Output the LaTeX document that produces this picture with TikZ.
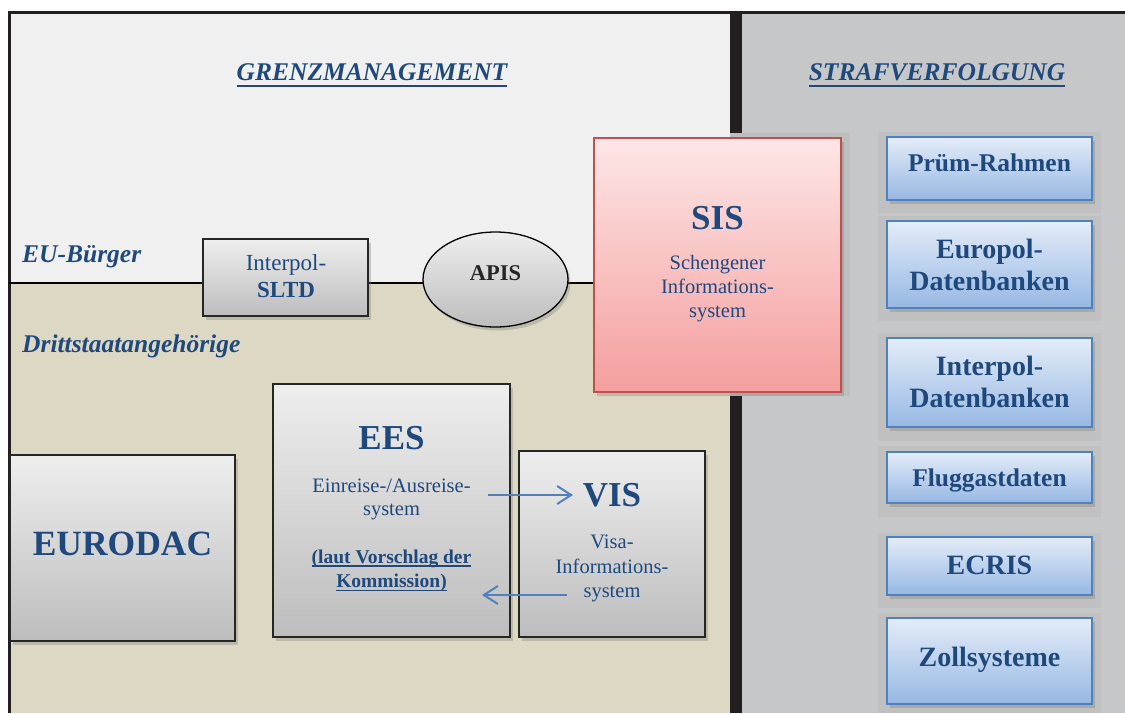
\documentclass[tikz,border=0pt]{standalone}
\usepackage{fontspec}
\setmainfont{Liberation Serif}
\usetikzlibrary{shapes.geometric,shadows,arrows.meta}
\definecolor{txtblue}{RGB}{31,73,125}
\definecolor{lightbg}{RGB}{240,240,240}
\definecolor{tanbg}{RGB}{221,216,196}
\definecolor{graybg}{RGB}{198,199,201}
\definecolor{panelgray}{RGB}{190,190,191}
\definecolor{colpanel}{RGB}{192,192,193}
\definecolor{framec}{RGB}{35,31,32}
\definecolor{boxline}{RGB}{38,38,38}
\definecolor{sisborder}{RGB}{192,80,77}
\definecolor{sistop}{RGB}{253,230,230}
\definecolor{sisbot}{RGB}{245,158,158}
\definecolor{bluebord}{RGB}{79,129,189}
\definecolor{btop}{RGB}{228,236,248}
\definecolor{bmid}{RGB}{203,218,240}
\definecolor{bbot}{RGB}{150,184,227}
\definecolor{gtop}{RGB}{238,238,238}
\definecolor{gbot}{RGB}{189,189,189}
\newcommand\fsz[1]{\fontsize{#1}{#1}\selectfont}
\newcommand\myul[3]{\setbox0\hbox{#3}\rlap{\rule[#1]{\wd0}{#2}}\box0}
\begin{document}
\begin{tikzpicture}[x=1pt,y=-1pt,
  txt/.style={anchor=base,inner sep=0pt,text=txtblue},
  lefttxt/.style={anchor=base west,inner sep=0pt,text=txtblue},
  shad/.style={drop shadow={shadow xshift=2.5pt,shadow yshift=-3.5pt,opacity=.35}},
  graybox/.style={draw=boxline,line width=1.6pt,top color=gtop,bottom color=gbot,shad,inner sep=0pt},
  bluebox/.style={draw=bluebord,line width=1.6pt,top color=btop,middle color=bmid,bottom color=bbot,shad,inner sep=0pt,minimum width=205pt},
  sisbox/.style={draw=sisborder,line width=1.6pt,top color=sistop,bottom color=sisbot,shad,inner sep=0pt},
  link/.style={draw=bluebord,line width=2pt,-{Straight Barb[length=14pt,width=18pt,line width=2pt]}}
]
\useasboundingbox (0,0) rectangle (1125,713);
\fill[white] (0,0) rectangle (1125,713);
% background areas
\fill[lightbg] (9,12) rectangle (730,283);
\fill[tanbg] (9,283) rectangle (730,713);
\fill[graybg] (742,12) rectangle (1125,713);
\fill[framec] (730,12) rectangle (742,713);
\draw[framec,line width=2.6pt] (9.5,713) -- (9.5,12.5) -- (1125,12.5);
% panels
\fill[panelgray] (730,133) rectangle (850,396);
\foreach \a/\b in {132/213,216/321,333/441,446/517,533/608,613/713}
  \fill[colpanel] (878,\a) rectangle (1101,\b);
% headers
\node[txt] (hgrenz) at (372,80) {\fsz{25.5}\bfseries\itshape\myul{-7.3pt}{2.4pt}{GRENZMANAGEMENT}};
\node[txt] (hstraf) at (937,80) {\fsz{25.5}\bfseries\itshape\myul{-7.3pt}{2.4pt}{STRAFVERFOLGUNG}};
\node[lefttxt] (eub) at (22,262) {\fsz{25.5}\bfseries\itshape EU-Bürger};
\node[lefttxt] (dritt) at (22,352) {\fsz{25.5}\bfseries\itshape Drittstaatangehörige};
% boxes
\node[sisbox,minimum width=247pt,minimum height=254pt] (sis) at (717.5,265) {};
\coordinate (lstart) at (9,283);
\draw[black,line width=1.5pt] (lstart) -- (lstart -| sis.west);
\node[graybox,minimum width=165pt,minimum height=77pt] (sltd) at (285.5,277.5) {};
\node[graybox,ellipse,draw=black,line width=1.3pt,minimum width=145pt,minimum height=95pt] (apis) at (495.5,279.5) {};
\node[graybox,minimum width=237pt,minimum height=253pt] (ees) at (391.5,510.5) {};
\node[graybox,minimum width=186pt,minimum height=186pt] (vis) at (612,544) {};
\node[graybox,minimum width=225pt,minimum height=186pt] (eurodac) at (122.5,548) {};
% texts in boxes
\node[txt] (sltd1) at (286,270) {\fsz{23}Interpol-};
\node[txt] (sltd2) at (286,297.7) {\fsz{23}\bfseries SLTD};
\node[txt,text=black!85] (apis1) at (495.5,280.7) {\fsz{22.5}\bfseries APIS};
\node[txt] (sis1) at (717.5,229) {\fsz{35}\bfseries SIS};
\node[txt] (sis2) at (717.5,269.5) {\fsz{20.5}Schengener};
\node[txt] (sis3) at (717.5,293.5) {\fsz{20.5}Informations-};
\node[txt] (sis4) at (717.5,317.5) {\fsz{20.5}system};
\node[txt] (ees1) at (391.5,449) {\fsz{35}\bfseries EES};
\node[txt] (ees2) at (391.5,492) {\fsz{20.5}Einreise-/Ausreise-};
\node[txt] (ees3) at (391.5,515) {\fsz{20.5}system};
\node[txt] (ees4) at (391.5,563) {\fsz{19.5}\bfseries\myul{-3.6pt}{1.6pt}{(laut Vorschlag der}};
\node[txt] (ees5) at (391.5,587.5) {\fsz{19.5}\bfseries\myul{-3.6pt}{1.6pt}{Kommission)}};
\node[txt] (vis1) at (612,506.7) {\fsz{35}\bfseries VIS};
\node[txt] (vis2) at (612,548.3) {\fsz{20.5}Visa-};
\node[txt] (vis3) at (612,573) {\fsz{20.5}Informations-};
\node[txt] (vis4) at (612,597) {\fsz{20.5}system};
\node[txt] (euro1) at (122.5,555) {\fsz{35.5}\bfseries EURODAC};
% arrows
\coordinate (a1s) at (488,495);
\coordinate (a1e) at (573,495);
\coordinate (a2s) at (567,595);
\coordinate (a2e) at (482,595);
\draw[link] (a1s) -- (a1e);
\draw[link] (a2s) -- (a2e);
% right column
\node[bluebox,minimum height=63pt] (pruem) at (989.5,168.5) {};
\node[bluebox,minimum height=87pt] (europol) at (989.5,264.5) {};
\node[bluebox,minimum height=89pt] (interpol) at (989.5,382.5) {};
\node[bluebox,minimum height=51pt] (flug) at (989.5,477.5) {};
\node[bluebox,minimum height=58pt] (ecris) at (989.5,566) {};
\node[bluebox,minimum height=86pt] (zoll) at (989.5,661) {};
\node[txt] (pruem1) at (989.5,171.7) {\fsz{25.5}\bfseries Prüm-Rahmen};
\node[txt] (europol1) at (989.5,258.3) {\fsz{28}\bfseries Europol-};
\node[txt] (europol2) at (989.5,290) {\fsz{28}\bfseries Datenbanken};
\node[txt] (interpol1) at (989.5,375) {\fsz{28}\bfseries Interpol-};
\node[txt] (interpol2) at (989.5,407.3) {\fsz{28}\bfseries Datenbanken};
\node[txt] (flug1) at (989.5,486) {\fsz{25.5}\bfseries Fluggastdaten};
\node[txt] (ecris1) at (989.5,574.3) {\fsz{28}\bfseries ECRIS};
\node[txt] (zoll1) at (989.5,666) {\fsz{28}\bfseries Zollsysteme};
\end{tikzpicture}
\end{document}
